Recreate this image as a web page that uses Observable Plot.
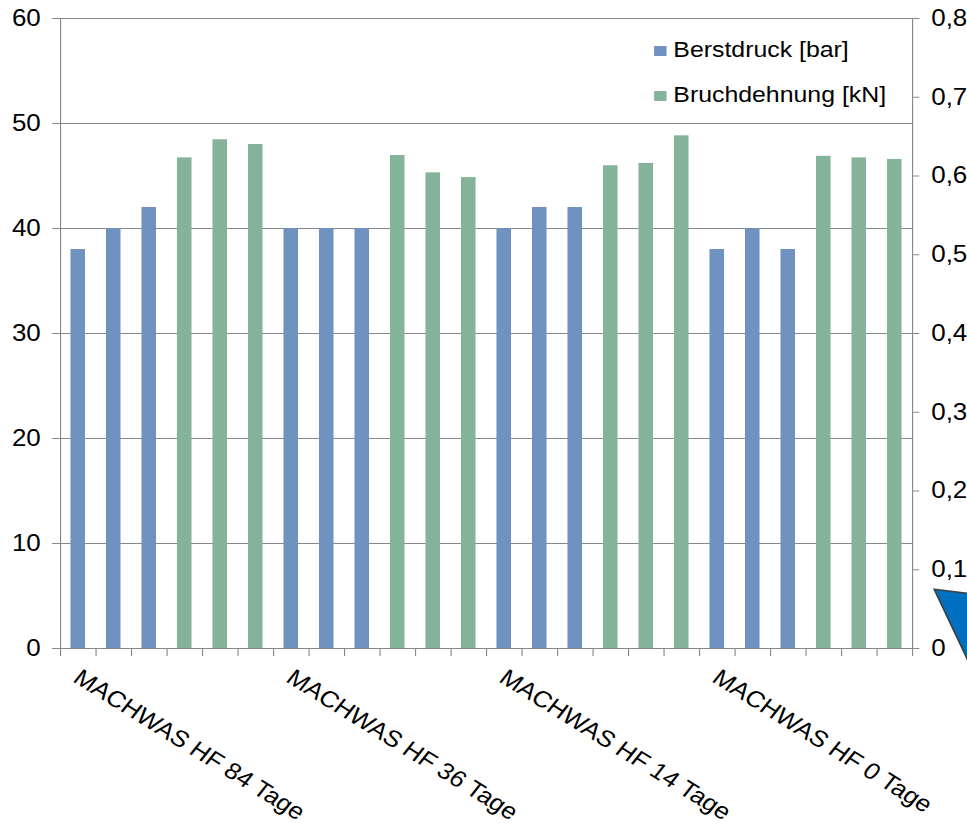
<!DOCTYPE html>
<html>
<head>
<meta charset="utf-8">
<script src="https://cdn.jsdelivr.net/npm/d3@7"></script>
<script src="https://cdn.jsdelivr.net/npm/@observablehq/plot@0.6"></script>
<style>
  html, body { margin: 0; padding: 0; background: #fff; overflow: hidden; }
  #chart {
    position: relative; width: 856px; height: 826px;
    transform: scaleX(1.1297); transform-origin: 0 0;
    font-family: "Liberation Sans", Arial, sans-serif; color: #000;
  }
  .legend-item { position: absolute; left: 579px; font-size: 22px; line-height: 22px; white-space: nowrap; }
  .legend-item .swatch { position: absolute; left: 0; top: 7px; width: 11px; height: 10px; }
  .legend-item .label { position: absolute; left: 17px; top: 0; }
</style>
</head>
<body>
<div id="chart"></div>
<script>
// Test groups (one per storage time), three specimens each per quantity
const groups = ["MACHWAS HF 84 Tage", "MACHWAS HF 36 Tage", "MACHWAS HF 14 Tage", "MACHWAS HF 0 Tage"];

// Berstdruck [bar], primary axis
const berstdruck = [
  [38, 40, 42],
  [40, 40, 40],
  [40, 42, 42],
  [38, 40, 38]
];

// Bruchdehnung [kN], secondary axis
const bruchdehnung = [
  [0.623, 0.646, 0.640],
  [0.626, 0.604, 0.598],
  [0.613, 0.616, 0.651],
  [0.625, 0.623, 0.621]
];

const seriesNames = ["Berstdruck [bar]", "Bruchdehnung [kN]"];
const seriesColors = ["#7092be", "#85b39a"];

const leftTicks = [0, 10, 20, 30, 40, 50, 60];
const rightTicks = [0, 0.1, 0.2, 0.3, 0.4, 0.5, 0.6, 0.7, 0.8];

// secondary axis spans 0–0.8 over the same height as 0–60
const secondaryFactor = 60 / 0.8;
const slotsPerGroup = 6;
const slotCount = groups.length * slotsPerGroup;

const rows = [];
groups.forEach((g, gi) => {
  berstdruck[gi].forEach((v, k) =>
    rows.push({slot: gi * slotsPerGroup + k, value: v, series: seriesNames[0]}));
  bruchdehnung[gi].forEach((v, k) =>
    rows.push({slot: gi * slotsPerGroup + 3 + k, value: v * secondaryFactor, series: seriesNames[1]}));
});

const slotEdges = d3.range(slotCount + 1);
const barHalf = 0.205; // half bar width, in slot units
const gray = "#878787";
const decimalComma = v => String(+v.toFixed(1)).replace(".", ",");

const plot = Plot.plot({
  width: 856,
  height: 826,
  marginLeft: 53.1,
  marginRight: 48.7,
  marginTop: 18,
  marginBottom: 178,
  style: {fontFamily: "'Liberation Sans', Arial, sans-serif", fontSize: "23px", color: "#000", background: "#fff"},
  x: {type: "linear", domain: [0, slotCount]},
  y: {domain: [0, 60]},
  color: {domain: seriesNames, range: seriesColors},
  marks: [
    Plot.ruleY(leftTicks, {stroke: gray, strokeWidth: 1}),
    Plot.rectY(rows, {
      x1: d => d.slot + 0.5 - barHalf,
      x2: d => d.slot + 0.5 + barHalf,
      y: "value",
      fill: "series"
    }),
    Plot.ruleX([0, slotCount], {stroke: gray, strokeWidth: 1}),
    Plot.axisY(leftTicks, {
      anchor: "left", tickSize: 7, tickPadding: 10.5, fontSize: 23,
      stroke: gray, fill: "#000", label: null
    }),
    Plot.axisY(rightTicks.map(v => v * secondaryFactor), {
      anchor: "right", tickSize: 5.5, tickPadding: 11, fontSize: 23,
      tickFormat: d => decimalComma(d / secondaryFactor),
      stroke: gray, fill: "#000", label: null
    }),
    Plot.axisX(slotEdges, {
      anchor: "bottom", tickSize: 8, tickFormat: () => "",
      stroke: gray, label: null
    }),
    Plot.text(groups, {
      x: (d, i) => i * slotsPerGroup + 0.5,
      y: () => 0,
      text: d => d,
      dx: 3.5,
      dy: 19,
      rotate: 35,
      textAnchor: "start",
      lineAnchor: "top",
      fontSize: 23,
      fill: "#000"
    })
  ]
});

// callout shape sitting at the lower right edge
d3.select(plot).append("polygon")
  .attr("points", "827,589.3 885,597.3 856.6,660")
  .attr("fill", "#0070c0")
  .attr("stroke", "#3f3f3f")
  .attr("stroke-width", 1.5);

const chart = document.getElementById("chart");
chart.appendChild(plot);

// legend
const legendTops = [39, 84];
seriesNames.forEach((name, i) => {
  const item = document.createElement("div");
  item.className = "legend-item";
  item.style.top = legendTops[i] + "px";
  const sw = document.createElement("span");
  sw.className = "swatch";
  sw.style.background = seriesColors[i];
  const lb = document.createElement("span");
  lb.className = "label";
  lb.textContent = name;
  item.appendChild(sw);
  item.appendChild(lb);
  chart.appendChild(item);
});
</script>
</body>
</html>
